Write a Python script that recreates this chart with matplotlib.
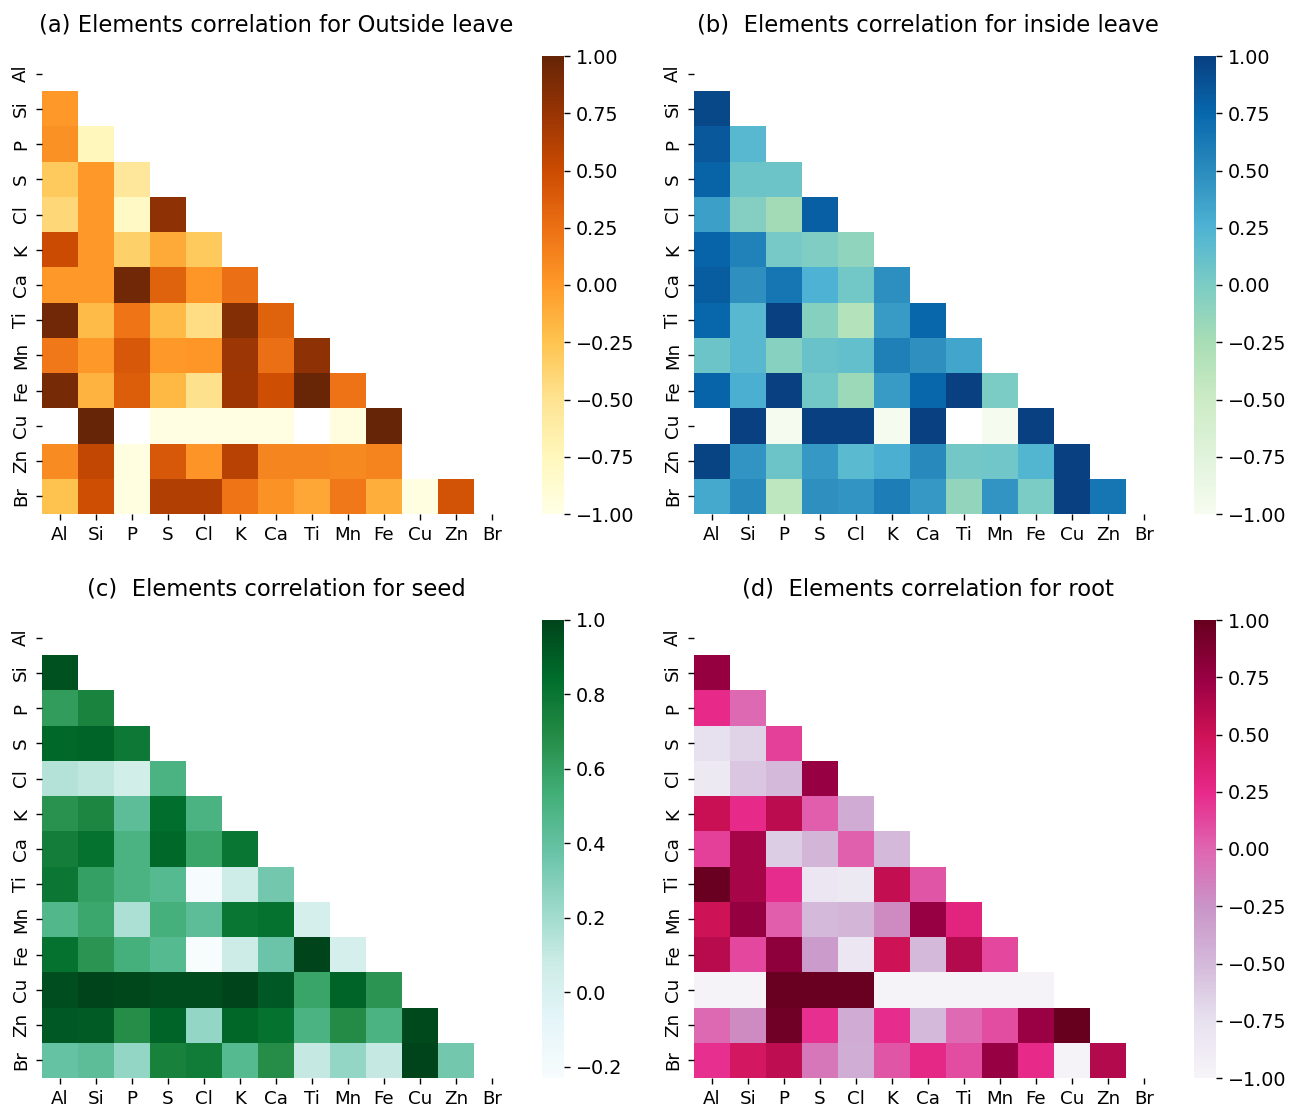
import numpy as np
import matplotlib
matplotlib.use("Agg")
import matplotlib.pyplot as plt

plt.rcParams['font.size'] = 11

nan = np.nan
elements = ['Al', 'Si', 'P', 'S', 'Cl', 'K', 'Ca', 'Ti', 'Mn', 'Fe', 'Cu', 'Zn', 'Br']

# lower triangle of each correlation matrix, one row per element (from Si down)
outside_leave = [
    [0.0],
    [0.05, -0.75],
    [-0.3, 0.0, -0.55],
    [-0.4, 0.0, -0.8, 0.8],
    [0.5, 0.0, -0.35, -0.1, -0.3],
    [0.0, 0.0, 0.95, 0.35, 0.02, 0.25],
    [0.95, -0.2, 0.22, -0.2, -0.45, 0.85, 0.35],
    [0.2, 0.0, 0.42, 0.0, 0.02, 0.73, 0.25, 0.8],
    [0.92, -0.15, 0.37, -0.18, -0.48, 0.72, 0.48, 0.98, 0.23],
    [nan, 1.0, nan, -0.98, -0.98, -0.98, -0.98, nan, -0.95, 1.0],
    [0.08, 0.55, -0.97, 0.42, 0.03, 0.6, 0.12, 0.12, 0.1, 0.13, nan],
    [-0.25, 0.48, -0.97, 0.63, 0.63, 0.22, 0.04, -0.08, 0.2, -0.12, -0.97, 0.45],
]

inside_leave = [
    [0.95],
    [0.85, 0.2],
    [0.78, 0.08, 0.08],
    [0.38, -0.05, -0.22, 0.8],
    [0.77, 0.57, 0.03, -0.02, -0.12],
    [0.82, 0.47, 0.65, 0.25, 0.05, 0.48],
    [0.75, 0.2, 1.0, -0.06, -0.33, 0.4, 0.75],
    [0.08, 0.2, -0.07, 0.1, 0.13, 0.58, 0.47, 0.33],
    [0.77, 0.28, 1.0, 0.05, -0.18, 0.4, 0.75, 1.0, 0.0],
    [nan, 1.0, -0.98, 1.0, 1.0, -0.98, 1.0, nan, -0.97, 1.0],
    [0.98, 0.45, 0.08, 0.42, 0.18, 0.28, 0.52, 0.04, 0.06, 0.22, 1.0],
    [0.32, 0.52, -0.4, 0.47, 0.45, 0.6, 0.42, -0.13, 0.45, 0.0, 1.0, 0.65],
]

seed = [
    [0.95],
    [0.62, 0.73],
    [0.86, 0.88, 0.78],
    [0.15, 0.12, 0.05, 0.5],
    [0.66, 0.72, 0.42, 0.84, 0.5],
    [0.76, 0.82, 0.5, 0.86, 0.58, 0.8],
    [0.79, 0.6, 0.5, 0.45, -0.22, 0.06, 0.35],
    [0.47, 0.57, 0.17, 0.52, 0.42, 0.8, 0.82, 0.02],
    [0.82, 0.65, 0.52, 0.45, -0.23, 0.07, 0.37, 1.0, 0.02],
    [0.96, 1.0, 0.99, 0.97, 0.97, 1.0, 0.92, 0.58, 0.88, 0.65],
    [0.92, 0.91, 0.68, 0.88, 0.25, 0.87, 0.82, 0.5, 0.69, 0.5, 0.98],
    [0.385, 0.42, 0.25, 0.74, 0.77, 0.45, 0.68, 0.1, 0.25, 0.1, 1.0, 0.35],
]

root = [
    [0.76],
    [0.25, -0.02],
    [-0.75, -0.65, 0.15],
    [-0.85, -0.58, -0.5, 0.75],
    [0.52, 0.25, 0.58, 0.03, -0.4],
    [0.15, 0.68, -0.62, -0.47, 0.02, -0.5],
    [0.98, 0.68, 0.23, -0.82, -0.85, 0.55, 0.07],
    [0.5, 0.77, 0.03, -0.5, -0.47, -0.2, 0.75, 0.3],
    [0.6, 0.12, 0.8, -0.3, -0.82, 0.5, -0.5, 0.62, 0.12],
    [-0.97, -0.97, 0.98, 0.98, 0.98, -0.97, -0.97, -0.97, -0.97, -0.97],
    [-0.02, -0.2, 0.95, 0.22, -0.4, 0.23, -0.5, -0.03, 0.1, 0.74, 1.0],
    [0.22, 0.45, 0.57, -0.1, -0.42, 0.07, 0.27, 0.1, 0.75, 0.25, -0.97, 0.62],
]

titles = ['(a) Elements correlation for Outside leave',
          '(b)  Elements correlation for inside leave',
          '(c)  Elements correlation for seed',
          '(d)  Elements correlation for root']
cmaps = ['YlOrBr', 'GnBu', 'BuGn', 'PuRd']
ranges = [(-1, 1), (-1, 1), (-0.23, 1.0), (-1, 1)]
cbar_ticks = [np.arange(-1, 1.01, 0.25), np.arange(-1, 1.01, 0.25),
              np.arange(-0.2, 1.01, 0.2), np.arange(-1, 1.01, 0.25)]


def full_matrix(tri):
    n = len(elements)
    m = np.full((n, n), np.nan)
    for i, row in enumerate(tri, start=1):
        m[i, :len(row)] = row
    return np.ma.masked_invalid(m)


fig = plt.figure(figsize=(10.4, 8.88), dpi=125)
W, H = 1300, 1110

# pixel boxes: (left, top) of each heatmap, colorbar left
origins = [(42, 56, 542), (694, 56, 1194), (42, 620, 542), (694, 620, 1194)]
data = [outside_leave, inside_leave, seed, root]

for k in range(4):
    x0, y0, cx = origins[k]
    ax = fig.add_axes([x0 / W, 1 - (y0 + 458) / H, 468 / W, 458 / H])
    cax = fig.add_axes([cx / W, 1 - (y0 + 458) / H, 22 / W, 458 / H])
    mat = full_matrix(data[k])
    vmin, vmax = ranges[k]
    mesh = ax.pcolormesh(np.arange(14), np.arange(14), mat, cmap=cmaps[k],
                         vmin=vmin, vmax=vmax, edgecolors='none')
    ax.set_xlim(0, 13)
    ax.set_ylim(13, 0)
    ax.set_xticks(np.arange(13) + 0.5)
    ax.set_xticklabels(elements, fontsize=10.5)
    ax.set_yticks(np.arange(13) + 0.5)
    ax.set_yticklabels(elements, rotation=90, va='center', fontsize=10.5)
    for s in ax.spines.values():
        s.set_visible(False)
    ax.set_title(titles[k], fontsize=13, pad=14)

    cb = fig.colorbar(mesh, cax=cax, ticks=cbar_ticks[k])
    cb.outline.set_visible(False)

fig.savefig('out.png', dpi=125)
